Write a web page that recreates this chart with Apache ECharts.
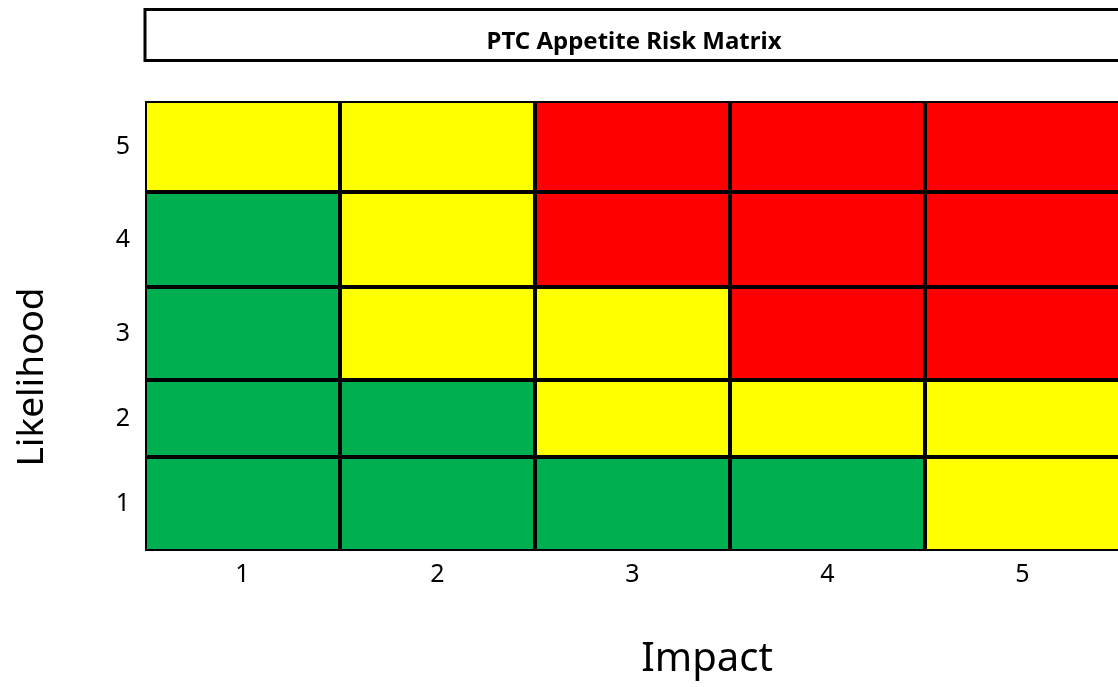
<!DOCTYPE html>
<html>
<head>
<meta charset="utf-8">
<script src="https://cdn.jsdelivr.net/npm/echarts@6/dist/echarts.min.js"></script>
<style>html,body{margin:0;padding:0;background:#fff;overflow:hidden;}#c{width:1126px;height:687px;}</style>
</head>
<body>
<div id="c"></div>
<script>
// Impact categories (x axis)
const impactLabels = ['1', '2', '3', '4', '5'];
// Likelihood categories, bottom to top
const likelihoodLabels = ['1', '2', '3', '4', '5'];
// Stacked segment values per likelihood band (bottom to top)
const segmentValues = [94, 77, 93, 95, 91];
// Risk level per cell: rows = likelihood 1..5, columns = impact 1..5 (1 green, 2 yellow, 3 red)
const riskLevels = [
  [1, 1, 1, 1, 2],
  [1, 1, 2, 2, 2],
  [1, 2, 2, 3, 3],
  [1, 2, 3, 3, 3],
  [2, 2, 3, 3, 3]
];
const levelColors = { 1: '#00B050', 2: '#FFFF00', 3: '#FF0000' };
const titleText = 'PTC Appetite Risk Matrix';
const xName = 'Impact';
const yName = 'Likelihood';

const total = segmentValues.reduce((a, b) => a + b, 0);
const centers = [];
let acc = 0;
segmentValues.forEach(v => { centers.push(acc + v / 2); acc += v; });

const FONT = 'Noto Sans';
const chart = echarts.init(document.getElementById('c'));
const series = likelihoodLabels.map((lab, i) => ({
  name: 'Likelihood ' + lab,
  type: 'bar',
  stack: 'matrix',
  barCategoryGap: '0%',
  barGap: '0%',
  silent: true,
  data: impactLabels.map((_, j) => ({
    value: segmentValues[i],
    itemStyle: { color: levelColors[riskLevels[i][j]] }
  })),
  itemStyle: { borderColor: '#000', borderWidth: 2 }
}));

chart.setOption({
  animation: false,
  backgroundColor: '#fff',
  grid: { left: 145, top: 101, width: 975, bottom: 136 },
  xAxis: {
    type: 'category',
    data: impactLabels,
    axisLine: { show: false },
    axisTick: { show: false },
    axisLabel: { color: '#000', fontFamily: FONT, fontSize: 25, margin: 11 }
  },
  yAxis: {
    type: 'value',
    min: 0,
    max: total,
    splitLine: { show: false },
    axisLine: { show: false },
    axisTick: { show: false },
    axisLabel: {
      color: '#000', fontFamily: FONT, fontSize: 25, margin: 15,
      customValues: centers,
      formatter: v => {
        const idx = centers.findIndex(c => Math.abs(c - v) < 0.01);
        return idx >= 0 ? likelihoodLabels[idx] : '';
      }
    }
  },
  series: series,
  graphic: [
    { type: 'rect', shape: { x: 145, y: 9.5, width: 990, height: 51 },
      style: { fill: '#fff', stroke: '#000', lineWidth: 3 } },
    { type: 'text', x: 634, y: 42, style: { text: titleText, fontFamily: FONT, fontWeight: 'bold', fontSize: 24,
      fill: '#000', align: 'center', verticalAlign: 'middle' } },
    { type: 'text', x: 707, y: 660, style: { text: xName, fontFamily: FONT, fontSize: 40,
      fill: '#000', align: 'center', verticalAlign: 'middle' } },
    { type: 'text', x: 32, y: 377, rotation: Math.PI / 2, style: { text: yName, fontFamily: FONT, fontSize: 37,
      fill: '#000', align: 'center', verticalAlign: 'middle' } }
  ]
});
</script>
</body>
</html>
